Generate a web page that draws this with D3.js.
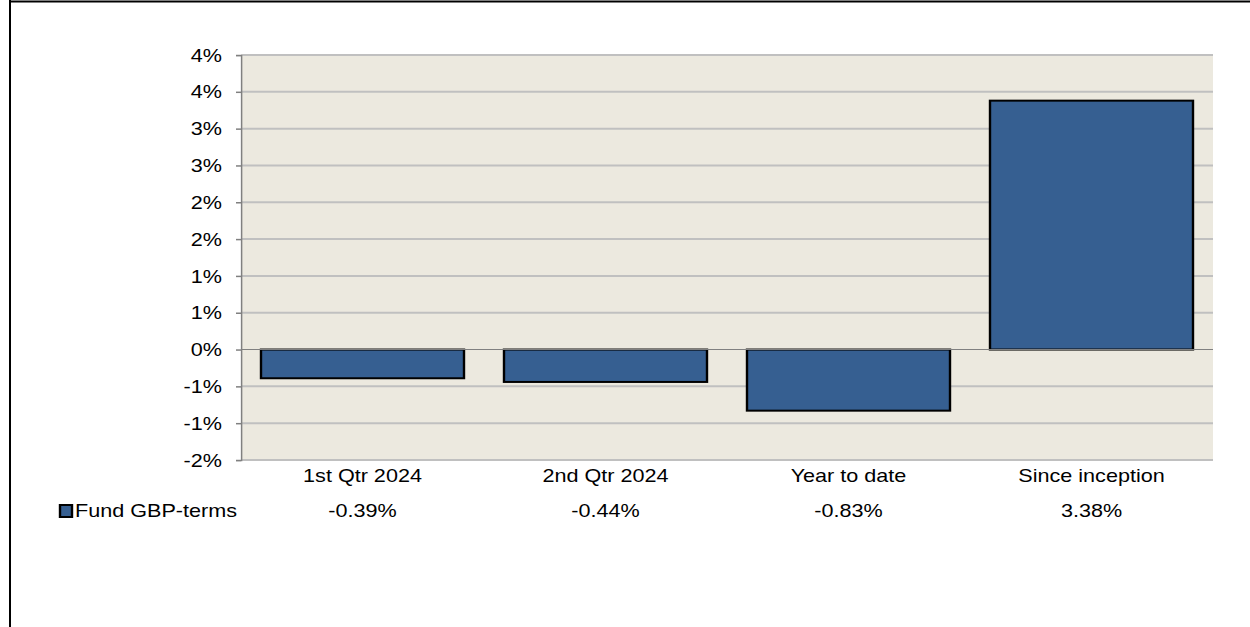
<!DOCTYPE html>
<html>
<head>
<meta charset="utf-8">
<script src="https://cdn.jsdelivr.net/npm/d3@7"></script>
<style>
  body { margin: 0; background: #fff; }
  svg { display: block; }
  text { font-family: "Liberation Sans", Arial, sans-serif; fill: #000; }
</style>
</head>
<body>
<svg id="chart"></svg>
<script>
// data
const categories = ['1st Qtr 2024', '2nd Qtr 2024', 'Year to date', 'Since inception'];
const values = [-0.39, -0.44, -0.83, 3.38];
const seriesName = 'Fund GBP-terms';
const yTicks = [-1.5, -1, -0.5, 0, 0.5, 1, 1.5, 2, 2.5, 3, 3.5, 4];

// the picture is stretched horizontally, so draw in a narrower box and let the viewBox widen it
const width = 1250;
const height = 627;
const sx = 1.2;
const vbWidth = width / sx;

const plot = { left: 241 / sx, right: 1213 / sx, top: 55, bottom: 460 };

const svg = d3.select('svg#chart')
  .attr('width', width).attr('height', height)
  .attr('viewBox', `0 0 ${vbWidth} ${height}`)
  .attr('preserveAspectRatio', 'none');

// outer frame (only left and top edges show)
svg.append('line').attr('x1', 10 / sx).attr('x2', vbWidth).attr('y1', 1.5).attr('y2', 1.5)
  .attr('stroke', '#000').attr('stroke-width', 2);
svg.append('line').attr('x1', 10 / sx).attr('x2', 10 / sx).attr('y1', 0).attr('y2', height)
  .attr('stroke', '#000').attr('stroke-width', 2 / sx);

const x = d3.scaleBand()
  .domain(categories)
  .range([plot.left, plot.right])
  .paddingInner(40 / 243)
  .paddingOuter(20 / 243);

const y = d3.scaleLinear()
  .domain([-1.5, 4])
  .range([plot.bottom, plot.top]);

// excel style rounding of the axis labels
const fmtTick = v => {
  const r = Math.round(Math.abs(v)) * Math.sign(v);
  return (r === 0 ? 0 : r) + '%';
};

// plot background
svg.append('rect')
  .attr('x', plot.left).attr('y', plot.top)
  .attr('width', plot.right - plot.left).attr('height', plot.bottom - plot.top)
  .attr('fill', '#ECE9DF');

// gridlines
svg.append('g').selectAll('line').data(yTicks.filter(d => d !== 0))
  .enter().append('line')
  .attr('x1', plot.left).attr('x2', plot.right)
  .attr('y1', d => y(d)).attr('y2', d => y(d))
  .attr('stroke', '#C0C0C0').attr('stroke-width', 2);

// y axis
const yAxis = d3.axisLeft(y).tickValues(yTicks).tickFormat(fmtTick).tickSize(5 / sx).tickPadding(14 / sx);
const yG = svg.append('g').attr('transform', `translate(${plot.left},0)`).call(yAxis);
yG.select('.domain').attr('stroke', '#808080').attr('stroke-width', 1.5 / sx);
yG.selectAll('.tick line').attr('stroke', '#808080').attr('stroke-width', 1.5);
yG.selectAll('.tick text').attr('font-size', 18).attr('fill', '#000')
  .attr('font-family', '"Liberation Sans", Arial, sans-serif')
  .attr('dy', '0.34em');

// bars
svg.append('g').selectAll('rect').data(values)
  .enter().append('rect')
  .attr('x', (d, i) => x(categories[i]))
  .attr('width', x.bandwidth())
  .attr('y', d => y(Math.max(0, d)))
  .attr('height', d => Math.abs(y(d) - y(0)))
  .attr('fill', '#365F91')
  .attr('stroke', '#000').attr('stroke-width', 2);

// zero line
svg.append('line')
  .attr('x1', plot.left).attr('x2', plot.right)
  .attr('y1', y(0)).attr('y2', y(0))
  .attr('stroke', '#808080').attr('stroke-width', 1);

// category labels
svg.append('g').selectAll('text').data(categories)
  .enter().append('text')
  .attr('x', d => x(d) + x.bandwidth() / 2)
  .attr('y', 482)
  .attr('text-anchor', 'middle')
  .attr('font-size', 18)
  .text(d => d);

// data table row
svg.append('rect')
  .attr('x', 60 / sx).attr('y', 505)
  .attr('width', 12 / sx).attr('height', 12)
  .attr('fill', '#365F91').attr('stroke', '#000').attr('stroke-width', 2);
svg.append('text')
  .attr('x', 75 / sx).attr('y', 517)
  .attr('font-size', 18)
  .text(seriesName);

svg.append('g').selectAll('text').data(values)
  .enter().append('text')
  .attr('x', (d, i) => x(categories[i]) + x.bandwidth() / 2)
  .attr('y', 517)
  .attr('text-anchor', 'middle')
  .attr('font-size', 18)
  .text(d => d.toFixed(2) + '%');
</script>
</body>
</html>
